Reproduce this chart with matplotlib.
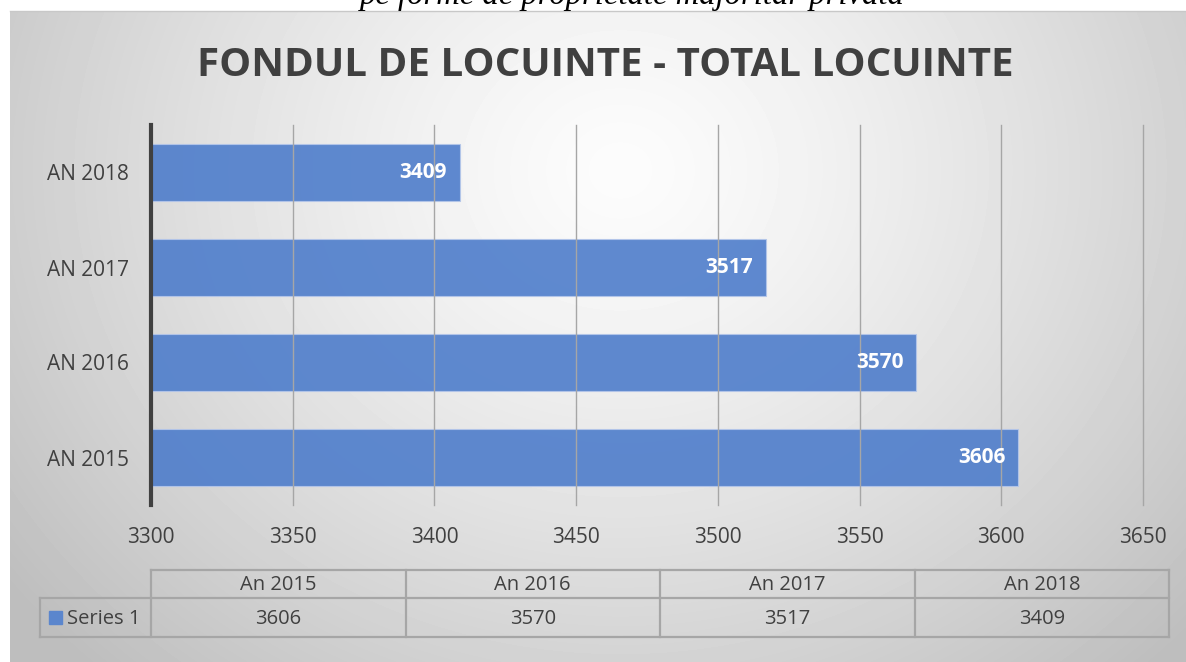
import matplotlib.pyplot as plt
import numpy as np

# data
categories = ["AN 2015", "AN 2016", "AN 2017", "AN 2018"]
values = [3606, 3570, 3517, 3409]
table_cols = ["An 2015", "An 2016", "An 2017", "An 2018"]
series_name = "Series 1"
x_ticks = [3300, 3350, 3400, 3450, 3500, 3550, 3600, 3650]

W, H = 1186, 662
BLUE = "#4e7dcb"
TXT = "#404040"
FONT = "Open Sans"

plt.rcParams['font.family'] = [FONT, 'DejaVu Sans']

fig = plt.figure(figsize=(W / 100, H / 100), dpi=100)

def px_axes(x0, y0, x1, y1, **kw):
  # axes from pixel box (top-left origin)
  return fig.add_axes([x0 / W, 1 - y1 / H, (x1 - x0) / W, (y1 - y0) / H], **kw)

### background panel with radial gradient ###
bg = px_axes(0, 0, W, H)
bg.set_xlim(0, W)
bg.set_ylim(H, 0)
bg.axis('off')
yy, xx = np.mgrid[11:H, 10:W]
r = np.sqrt(((xx - 620) / 700.0) ** 2 + ((yy - 170) / 620.0) ** 2)
shade = np.clip(252 - 55 * r ** 1.3, 190, 252) / 255.0
bg.imshow(shade, cmap='gray', vmin=0, vmax=1, extent=(10, W, H, 11), aspect='auto', zorder=0)
bg.plot([10, W], [11, 11], color="#c8c8c8", lw=1, zorder=1)

# caption of the page above the chart (cut off at the top, as in the source)
fig.text(632 / W, 1 - 4 / H, "pe forme de proprietate majoritar privată", ha='center', va='baseline',
         fontsize=23.5, style='italic', family='Liberation Serif', color='black')

# title
fig.text(605 / W, 1 - 65 / H, "FONDUL DE LOCUINTE - TOTAL LOCUINTE", ha='center', va='center',
         fontsize=29, fontweight='bold', color=TXT)

### bar chart ###
ax = px_axes(151, 125, 1143, 505)
ax.patch.set_alpha(0)
ypos = np.arange(len(categories))
ax.barh(ypos, np.array(values) - x_ticks[0], left=x_ticks[0], height=0.6,
        color=BLUE, alpha=0.9, edgecolor="#b4c6ea", linewidth=0.8, zorder=2)
for y, v in zip(ypos, values):
  ax.text(v - 4.5, y, str(v), ha='right', va='center', color='white', fontsize=15,
          fontweight='bold', zorder=4)
ax.set_xlim(x_ticks[0], x_ticks[-1])
ax.set_ylim(-0.5, len(categories) - 0.5)
ax.set_xticks(x_ticks)
ax.set_yticks(ypos)
ax.set_yticklabels(categories)
ax.xaxis.grid(True, color="#a6a6a6", lw=1, zorder=3)
for gl in ax.get_xgridlines():
  gl.set_clip_on(False)
ax.set_axisbelow(False)
for s in ['top', 'right', 'bottom']:
  ax.spines[s].set_visible(False)
ax.spines['left'].set_color("#404040")
ax.spines['left'].set_linewidth(3)
ax.spines['left'].set_zorder(5)
ax.tick_params(axis='both', length=0, labelsize=15, labelcolor=TXT)
ax.tick_params(axis='x', pad=16)
ax.tick_params(axis='y', pad=16)

### data table ###
tb = px_axes(0, 0, W, H)
tb.set_xlim(0, W)
tb.set_ylim(H, 0)
tb.axis('off')
col_edges = np.linspace(151, 1169, len(table_cols) + 1)
row_top, row_mid, row_bot = 570, 598, 637
leg_left = 40
gc = "#a6a6a6"
lw = 1.6
tb.plot([col_edges[0], col_edges[-1]], [row_top, row_top], color=gc, lw=lw)
tb.plot([leg_left, col_edges[-1]], [row_mid, row_mid], color=gc, lw=lw)
tb.plot([leg_left, col_edges[-1]], [row_bot, row_bot], color=gc, lw=lw)
for xe in col_edges:
  tb.plot([xe, xe], [row_top, row_bot], color=gc, lw=lw)
tb.plot([leg_left, leg_left], [row_mid, row_bot], color=gc, lw=lw)
for i, (c, v) in enumerate(zip(table_cols, values)):
  xc = (col_edges[i] + col_edges[i + 1]) / 2
  tb.text(xc, (row_top + row_mid) / 2 + 1, c, ha='center', va='center', fontsize=14.5, color=TXT)
  tb.text(xc, (row_mid + row_bot) / 2 + 1, str(v), ha='center', va='center', fontsize=14.5, color=TXT)
tb.add_patch(plt.Rectangle((49, 611), 13, 13, color="#5b86cd"))
tb.text(67, (row_mid + row_bot) / 2 + 1, series_name, ha='left', va='center', fontsize=14.5, color=TXT)

fig.savefig("out.png", dpi=100)
